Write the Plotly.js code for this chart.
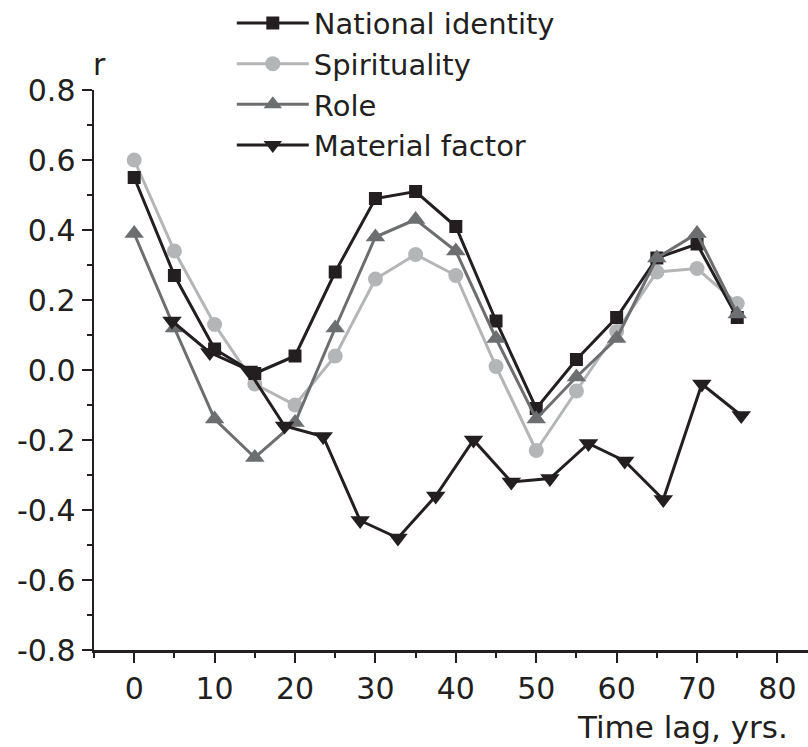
<!DOCTYPE html>
<html>
<head>
<meta charset="utf-8">
<script src="https://cdn.plot.ly/plotly-3.0.1.min.js"></script>
<style>
html,body{margin:0;padding:0;background:#ffffff;}
#chart{width:808px;height:747px;}
</style>
</head>
<body>
<div id="chart"></div>
<script>
// ---- data ----
const lagYears = [0, 5, 10, 15, 20, 25, 30, 35, 40, 45, 50, 55, 60, 65, 70, 75];
const nationalIdentity = [0.55, 0.27, 0.06, -0.01, 0.04, 0.28, 0.49, 0.51, 0.41, 0.14, -0.11, 0.03, 0.15, 0.32, 0.36, 0.15];
const spirituality = [0.60, 0.34, 0.13, -0.04, -0.10, 0.04, 0.26, 0.33, 0.27, 0.01, -0.23, -0.06, 0.11, 0.28, 0.29, 0.19];
const role = [0.39, 0.12, -0.14, -0.25, -0.15, 0.12, 0.38, 0.43, 0.34, 0.09, -0.14, -0.02, 0.09, 0.32, 0.39, 0.16];
const materialLagYears = [4.7, 9.4, 14.2, 18.7, 23.5, 28.1, 32.8, 37.5, 42.2, 46.9, 51.7, 56.5, 61.0, 65.8, 70.6, 75.5];
const materialFactor = [0.14, 0.05, 0.00, -0.16, -0.19, -0.43, -0.48, -0.36, -0.20, -0.32, -0.31, -0.21, -0.26, -0.37, -0.04, -0.13];

const xTickVals = [0, 10, 20, 30, 40, 50, 60, 70, 80];
const xTickText = ['0', '10', '20', '30', '40', '50', '60', '70', '80'];
const yTickVals = [-0.8, -0.6, -0.4, -0.2, 0, 0.2, 0.4, 0.6, 0.8];
const yTickText = ['-0.8', '-0.6', '-0.4', '-0.2', '0.0', '0.2', '0.4', '0.6', '0.8'];

const seriesNames = ['National identity', 'Spirituality', 'Role', 'Material factor'];
const xAxisTitle = 'Time lag, yrs.';
const yAxisTitle = 'r';

// ---- styling ----
const ink = '#231f20';
const lightGray = '#b4b5b7';
const darkGray = '#6d6e70';
const FONT = 'DejaVu Sans, Arial, sans-serif';

const traces = [
  {
    x: lagYears, y: spirituality, name: seriesNames[1], legendrank: 2,
    type: 'scatter', mode: 'lines+markers',
    line: {color: lightGray, width: 3},
    marker: {symbol: 'circle', size: 15, color: lightGray}
  },
  {
    x: lagYears, y: nationalIdentity, name: seriesNames[0], legendrank: 1,
    type: 'scatter', mode: 'lines+markers',
    line: {color: ink, width: 3},
    marker: {symbol: 'square', size: 13, color: ink}
  },
  {
    x: lagYears, y: role, name: seriesNames[2], legendrank: 3,
    type: 'scatter', mode: 'lines+markers',
    line: {color: darkGray, width: 3},
    marker: {symbol: 'triangle-up', size: 17, color: darkGray}
  },
  {
    x: materialLagYears, y: materialFactor, name: seriesNames[3], legendrank: 4,
    type: 'scatter', mode: 'lines+markers',
    line: {color: ink, width: 3},
    marker: {symbol: 'triangle-down', size: 17, color: ink}
  }
];

const layout = {
  width: 808, height: 747,
  margin: {l: 94, r: 0, t: 90, b: 97, pad: 0, autoexpand: false},
  paper_bgcolor: '#ffffff', plot_bgcolor: '#ffffff',
  font: {family: FONT, size: 30, color: ink},
  showlegend: true,
  legend: {
    x: 0.193, xanchor: 'left', y: 1.165, yanchor: 'top',
    bgcolor: 'rgba(0,0,0,0)', borderwidth: 0,
    font: {family: FONT, size: 29, color: ink},
    itemwidth: 72,
    traceorder: 'normal'
  },
  xaxis: {
    range: [-5, 83.8], showgrid: false, zeroline: false,
    showline: true, linecolor: ink, linewidth: 2.5,
    ticks: 'outside', ticklen: 10, tickwidth: 2, tickcolor: ink,
    tickmode: 'array', tickvals: xTickVals, ticktext: xTickText,
    tickfont: {family: FONT, size: 30, color: ink},
    minor: {dtick: 5, tick0: 0, ticks: 'outside', ticklen: 5, tickwidth: 2, tickcolor: ink, showgrid: false},
    fixedrange: true
  },
  yaxis: {
    range: [-0.8, 0.8], showgrid: false, zeroline: false,
    showline: true, linecolor: ink, linewidth: 2.5,
    ticks: 'outside', ticklen: 10, tickwidth: 2, tickcolor: ink,
    tickmode: 'array', tickvals: yTickVals, ticktext: yTickText,
    tickfont: {family: FONT, size: 30, color: ink},
    minor: {dtick: 0.1, tick0: 0, ticks: 'outside', ticklen: 5, tickwidth: 2, tickcolor: ink, showgrid: false},
    fixedrange: true
  },
  annotations: [
    {
      text: xAxisTitle, xref: 'paper', yref: 'paper',
      x: 0.975, xanchor: 'right', y: -0.1375, yanchor: 'middle',
      showarrow: false, font: {family: FONT, size: 31, color: ink}
    },
    {
      text: yAxisTitle, xref: 'paper', yref: 'paper',
      x: 0, xanchor: 'left', xshift: -3, y: 1.046, yanchor: 'middle',
      showarrow: false, font: {family: FONT, size: 30, color: ink}
    }
  ]
};

Plotly.newPlot('chart', traces, layout, {displayModeBar: false, staticPlot: true});
</script>
</body>
</html>
